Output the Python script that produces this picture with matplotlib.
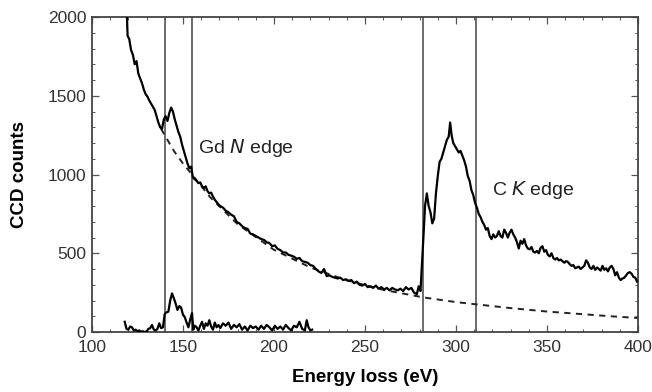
#!/usr/bin/env python3
"""EELS spectrum: Gd N edge and C K edge with power-law background."""
import matplotlib
matplotlib.use("Agg")
import matplotlib.pyplot as plt
from matplotlib.ticker import MultipleLocator

plt.rcParams["font.family"] = ["Liberation Sans", "DejaVu Sans"]

# measured spectrum (energy loss in eV, CCD counts)
spec_ev = [
    119.0, 119.6, 120.5, 121.5, 122.5, 123.5, 124.5, 125.5, 126.5, 127.5,
    128.5, 129.5, 130.5, 131.5, 132.5, 133.5, 134.5, 135.5, 136.5, 137.5,
    138.5, 139.5, 140.5, 141.5, 142.5, 143.5, 144.5, 145.5, 146.5, 147.5,
    148.5, 149.5, 150.5, 151.5, 152.5, 153.5, 154.5, 155.5, 156.5, 157.5,
    158.5, 159.5, 160.5, 161.5, 162.5, 163.5, 164.5, 165.5, 166.5, 167.5,
    168.5, 169.5, 170.5, 172.0, 173.5, 175.0, 176.5, 178.0, 179.5, 181.0,
    182.5, 184.0, 185.5, 187.0, 188.5, 190.0, 191.5, 193.0, 194.5, 196.0,
    197.5, 199.0, 200.5, 202.0, 203.5, 205.0, 206.5, 208.0, 209.5, 211.0,
    212.5, 214.0, 215.5, 217.0, 218.5, 220.0, 221.5, 223.0, 224.5, 226.0,
    227.5, 229.0, 230.5, 232.0, 233.5, 235.0, 236.5, 238.0, 239.5, 241.0,
    242.5, 244.0, 245.5, 247.0, 248.5, 250.0, 251.5, 253.0, 254.5, 256.0,
    257.5, 259.0, 260.5, 262.0, 263.5, 265.0, 266.5, 268.0, 269.5, 271.0,
    272.5, 274.0, 275.5, 277.0, 278.5, 279.5, 280.5, 281.5, 282.3, 283.0,
    284.0, 285.0, 286.0, 287.0, 288.0, 289.0, 290.0, 291.0, 292.0, 293.0,
    294.0, 295.0, 296.0, 296.8, 297.6, 298.5, 299.5, 300.5, 301.5, 302.5,
    303.5, 304.5, 305.5, 306.5, 307.5, 308.5, 309.5, 310.5, 311.5, 312.5,
    313.5, 314.5, 315.5, 316.5, 317.5, 318.5, 319.5, 320.5, 321.5, 322.5,
    323.5, 324.5, 325.5, 326.5, 327.5, 328.5, 329.5, 330.5, 331.5, 332.5,
    333.5, 334.5, 335.5, 336.5, 337.5, 338.5, 339.5, 340.5, 341.5, 342.5,
    343.5, 344.5, 345.5, 346.5, 347.5, 348.5, 349.5, 350.5, 351.5, 352.5,
    353.5, 354.5, 355.5, 356.5, 357.5, 358.5, 359.5, 360.5, 361.5, 362.5,
    363.5, 364.5, 365.5, 366.5, 367.5, 368.5, 369.5, 370.5, 371.5, 372.5,
    373.5, 374.5, 375.5, 376.5, 377.5, 378.5, 379.5, 380.5, 381.5, 382.5,
    383.5, 384.5, 385.5, 386.5, 387.5, 388.5, 389.5, 390.5, 391.5, 392.5,
    393.5, 394.5, 395.5, 396.5, 397.5, 398.5, 399.5,
]
spec_counts = [
    2080, 1880, 1860, 1790, 1760, 1700, 1720, 1640, 1610, 1580,
    1540, 1510, 1495, 1470, 1450, 1430, 1410, 1370, 1330, 1300,
    1290, 1350, 1370, 1340, 1390, 1425, 1400, 1350, 1310, 1270,
    1240, 1190, 1150, 1110, 1070, 1040, 1050, 980, 970, 960,
    945, 950, 925, 915, 925, 895, 880, 885, 860, 840,
    825, 810, 800, 790, 770, 760, 745, 735, 700, 690,
    672, 660, 655, 625, 620, 610, 600, 590, 585, 570,
    565, 545, 550, 528, 520, 505, 505, 490, 485, 478,
    465, 470, 450, 445, 440, 425, 420, 400, 385, 375,
    400, 355, 360, 350, 345, 340, 345, 330, 335, 325,
    330, 310, 320, 300, 295, 305, 285, 290, 280, 295,
    275, 285, 270, 280, 265, 280, 270, 265, 275, 260,
    285, 270, 280, 250, 240, 290, 260, 470, 640, 800,
    880, 800, 760, 690, 720, 880, 990, 1080, 1100, 1140,
    1180, 1220, 1240, 1330, 1250, 1200, 1180, 1160, 1140, 1150,
    1120, 1090, 1050, 990, 960, 900, 870, 820, 790, 750,
    730, 700, 680, 650, 660, 610, 590, 620, 600, 610,
    640, 610, 600, 650, 630, 600, 630, 650, 620, 600,
    570, 530, 580, 560, 590, 550, 530, 525, 540, 510,
    505, 515, 500, 535, 545, 510, 520, 490, 480, 500,
    470, 460, 470, 455, 460, 450, 440, 450, 445, 430,
    420, 425, 405, 410, 415, 400, 410, 420, 455, 440,
    410, 400, 420, 395, 410, 400, 390, 420, 395, 405,
    385, 410, 420, 400, 360, 380, 345, 330, 340, 345,
    360, 375, 380, 370, 350, 345, 320,
]

# fitted power-law background (dashed)
bkg_ev = [138, 141, 145, 150, 155, 165, 180, 200, 220, 240, 260, 282,
          300, 311, 330, 350, 370, 385, 400]
bkg_counts = [1290, 1230, 1150, 1070, 1000, 855, 685, 522, 410, 328, 268,
              220, 190, 176, 152, 130, 113, 100, 89]

# background-subtracted Gd N edge
diff_ev = [
    118.0, 119.0, 120.0, 121.0, 122.0, 123.0, 124.0, 125.0, 126.0, 127.0,
    128.0, 129.0, 130.0, 131.0, 132.0, 133.0, 134.0, 135.0, 136.0, 137.0,
    138.0, 139.0, 140.0, 141.0, 142.0, 143.0, 144.0, 145.0, 146.0, 147.0,
    148.0, 149.0, 150.0, 151.0, 152.0, 153.0, 154.0, 155.0, 155.7, 156.5,
    157.5, 158.5, 159.5, 160.5, 161.5, 162.5, 163.5, 164.5, 165.5, 166.5,
    167.5, 168.5, 169.5, 170.5, 172.0, 173.5, 175.0, 176.5, 178.0, 179.5,
    181.0, 182.5, 184.0, 185.5, 187.0, 188.5, 190.0, 191.5, 193.0, 194.5,
    196.0, 197.5, 199.0, 200.5, 202.0, 203.5, 205.0, 206.5, 208.0, 209.5,
    211.0, 212.5, 214.0, 215.5, 217.0, 218.0, 219.0, 220.0, 221.0,
]
diff_counts = [
    65, 20, 15, 35, 30, 10, 15, 5, 10, 2,
    5, 0, 3, 20, 25, 45, 15, 10, 20, 55,
    25, 30, 115, 125, 130, 200, 245, 215, 180, 140,
    165, 155, 110, 95, 60, 30, 80, 120, 15, 40,
    30, 10, 40, 65, 20, 55, 40, 75, 35, 15,
    60, 30, 45, 25, 55, 40, 60, 20, 45, 30,
    50, 15, 35, 10, 40, 25, 35, 15, 40, 20,
    45, 30, 10, 40, 20, 35, 15, 45, 25, 10,
    40, 30, 65, 20, 10, 75, 30, 10, 15,
]

# integration window limits
window_lines = [140, 155, 282, 311]

fig = plt.figure(figsize=(6.52, 3.92), dpi=100)
ax = fig.add_axes([0.141, 0.153, 0.8375, 0.8036])

for x in window_lines:
    ax.axvline(x, color="#444444", lw=1.1, zorder=1)

ax.plot(bkg_ev, bkg_counts, color="#222222", lw=1.4, ls=(0, (3.2, 2.8)), zorder=2)
ax.plot(spec_ev, spec_counts, color="black", lw=1.6, zorder=3)
ax.plot(diff_ev, diff_counts, color="black", lw=1.6, zorder=3)

ax.set_xlim(100, 400)
ax.set_ylim(0, 2000)
ax.xaxis.set_major_locator(MultipleLocator(50))
ax.xaxis.set_minor_locator(MultipleLocator(10))
ax.yaxis.set_major_locator(MultipleLocator(500))
ax.yaxis.set_minor_locator(MultipleLocator(100))
ax.tick_params(which="both", direction="in", top=True, right=True,
               color="#555555", labelcolor="#333333", labelsize=12.5)
ax.tick_params(which="major", length=5, width=0.9)
ax.tick_params(which="minor", length=2.5, width=0.7)
ax.tick_params(axis="x", which="major", pad=6)
ax.tick_params(axis="y", which="major", pad=4)
for s in ax.spines.values():
    s.set_color("#444444")
    s.set_linewidth(1.3)

ax.set_xlabel("Energy loss (eV)", fontsize=13.5, fontweight="bold")
ax.set_ylabel("CCD counts", fontsize=13.5, fontweight="bold")
ax.xaxis.set_label_coords(0.5, -0.118)
ax.yaxis.set_label_coords(-0.117, 0.5)

ax.text(158, 1170, "Gd $\\mathit{N}$ edge", fontsize=14, color="#222222",
        va="center", ha="left")
ax.text(320, 900, "C $\\mathit{K}$ edge", fontsize=14, color="#222222",
        va="center", ha="left")

fig.savefig("out.png", dpi=100)
